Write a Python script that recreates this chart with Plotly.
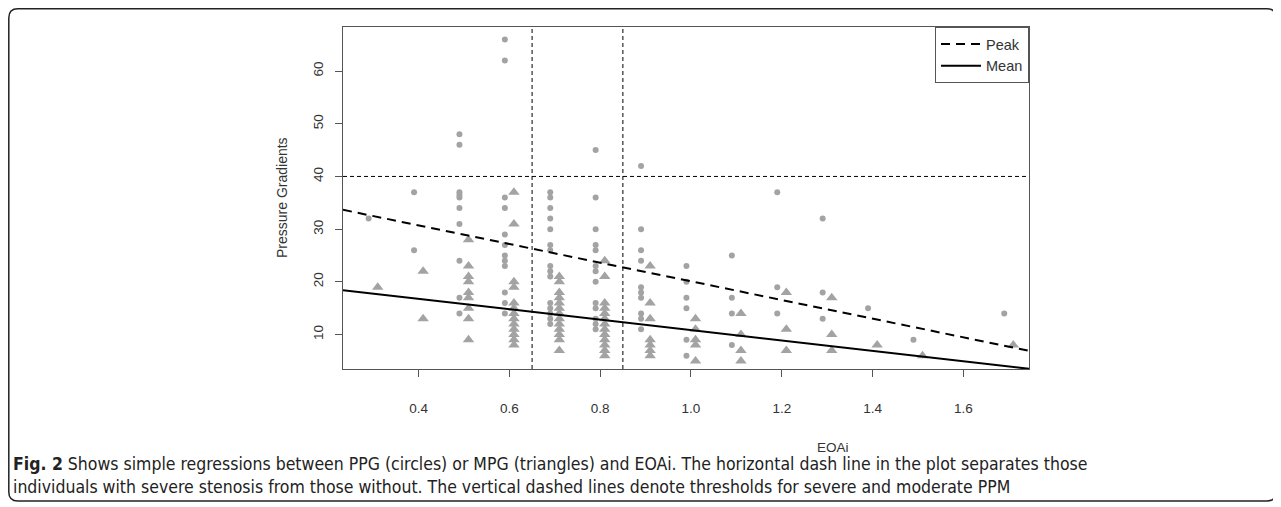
import plotly.graph_objects as go

# ---------------- data ----------------
eoai_levels = [0.3, 0.4, 0.5, 0.6, 0.7, 0.8, 0.9, 1.0, 1.1, 1.2, 1.3, 1.4, 1.5, 1.7]
ppg_by_level = [
    [32],
    [37, 26],
    [48, 46, 37, 36.5, 36, 34, 31, 24, 17, 14],
    [66, 62, 36, 34, 29, 27, 25, 24, 23, 18, 16, 14],
    [37, 36, 34, 32, 30, 27, 26, 23, 22, 21, 16, 15, 14, 13, 12],
    [45, 36, 30, 27, 26, 23, 22, 20, 16, 15, 13, 12, 11],
    [42, 30, 26, 24, 19, 18, 17, 14, 13, 11],
    [23, 20, 17, 15, 9, 6],
    [25, 17, 14, 8],
    [37, 19, 14],
    [32, 18, 13],
    [15],
    [9],
    [14],
]
mpg_by_level = [
    [19],
    [22, 13],
    [28, 23, 21, 20, 18, 17, 15, 13, 9],
    [37, 31, 20, 19, 16, 15, 14, 13, 12, 11, 10, 9, 8],
    [21, 20, 18, 17, 16, 15, 14, 13, 12, 11, 10, 9, 7],
    [24, 21, 16, 15, 14, 13, 12, 11, 10, 9, 8, 7, 6],
    [23, 16, 13, 9, 8, 7, 6],
    [13, 11, 9, 8, 5],
    [14, 10, 7, 5],
    [18, 11, 7],
    [17, 10, 7],
    [8],
    [6],
    [8],
]
# regression lines (intercept, slope)
peak_fit = [37.8, -17.7]
mean_fit = [20.74, -9.88]
severe_gradient = 40
ppm_thresholds = [0.65, 0.85]

x_ticks = [0.4, 0.6, 0.8, 1.0, 1.2, 1.4, 1.6]
x_ticktext = ["0.4", "0.6", "0.8", "1.0", "1.2", "1.4", "1.6"]
y_ticks = [10, 20, 30, 40, 50, 60]
y_ticktext = ["10", "20", "30", "40", "50", "60"]

# ---------------- style ----------------
x_range = [0.2335, 1.7445]
y_range = [3.47, 68.35]
dodge = 0.01
pt_color = "#a3a3a3"
axis_color = "#555555"
txt_color = "#333333"
font_main = "Liberation Sans, Arial, sans-serif"
font_cap = "DejaVu Sans Condensed, Liberation Sans Narrow, Liberation Sans, sans-serif"

OFF = 8                       # page body margin
W, H = 1281 - OFF, 507 - OFF
# plot area in page pixels
pL, pR, pT, pB = 343, 1029, 27, 369
L, R, T, B = pL - OFF, pR - OFF, pT - OFF, pB - OFF


def pg(px, py):
    """page pixel -> paper coordinates"""
    fx, fy = px - OFF, py - OFF
    return (fx - L) / (R - L), (B - fy) / (B - T)


ppg_x, ppg_y, mpg_x, mpg_y = [], [], [], []
for lv, ps, ms in zip(eoai_levels, ppg_by_level, mpg_by_level):
    ppg_x += [lv - dodge] * len(ps)
    ppg_y += ps
    mpg_x += [lv + dodge] * len(ms)
    mpg_y += ms

fig = go.Figure()
fig.add_trace(go.Scatter(x=ppg_x, y=ppg_y, mode="markers", showlegend=False,
                         marker=dict(symbol="circle", size=6, color=pt_color)))
fig.add_trace(go.Scatter(x=mpg_x, y=mpg_y, mode="markers", showlegend=False,
                         marker=dict(symbol="triangle-up", size=10, color=pt_color)))

line_x = x_range
fig.add_trace(go.Scatter(x=line_x, y=[peak_fit[0] + peak_fit[1] * v for v in line_x],
                         mode="lines", name="Peak",
                         line=dict(color="black", width=2, dash="9px,6px")))
fig.add_trace(go.Scatter(x=line_x, y=[mean_fit[0] + mean_fit[1] * v for v in line_x],
                         mode="lines", name="Mean",
                         line=dict(color="black", width=2)))

shapes = [
    dict(type="line", xref="paper", yref="y", x0=0, x1=1, y0=severe_gradient, y1=severe_gradient,
         line=dict(color="black", width=1, dash="4px,3px")),
]
for t in ppm_thresholds:
    shapes.append(dict(type="line", xref="x", yref="paper", x0=t, x1=t, y0=0, y1=1,
                       line=dict(color="black", width=1, dash="4px,3px")))

# outer rounded frame (figure box), page pixels
fx0, fy0 = 8.8, 8.8
fx1, fy1 = 1276, 501
rad = 9


def P(px, py):
    x, y = pg(px, py)
    return f"{x:.5f},{y:.5f}"


path = (f"M {P(fx0 + rad, fy0)} L {P(fx1 - rad, fy0)} Q {P(fx1, fy0)} {P(fx1, fy0 + rad)} "
        f"L {P(fx1, fy1 - rad)} Q {P(fx1, fy1)} {P(fx1 - rad, fy1)} "
        f"L {P(fx0 + rad, fy1)} Q {P(fx0, fy1)} {P(fx0, fy1 - rad)} "
        f"L {P(fx0, fy0 + rad)} Q {P(fx0, fy0)} {P(fx0 + rad, fy0)} Z")
shapes.append(dict(type="path", xref="paper", yref="paper", path=path,
                   line=dict(color="#222222", width=1.5), layer="below"))

annotations = [
    dict(text="Pressure Gradients", xref="paper", yref="paper",
         x=pg(282, 0)[0], y=pg(0, 198)[1], xanchor="center", yanchor="middle",
         textangle=-90, showarrow=False,
         font=dict(family=font_main, size=14, color=txt_color)),
    dict(text="EOAi", xref="paper", yref="paper", x=pg(833, 0)[0], y=pg(0, 447)[1],
         xanchor="center", yanchor="middle",
         showarrow=False, font=dict(family=font_main, size=13.5, color=txt_color)),
    dict(text="<b>Fig. 2</b> Shows simple regressions between PPG (circles) or MPG (triangles) and EOAi. "
              "The horizontal dash line in the plot separates those<br>"
              "individuals with severe stenosis from those without. The vertical dashed lines denote "
              "thresholds for severe and moderate PPM",
         xref="paper", yref="paper", x=pg(11, 0)[0], y=pg(0, 475)[1],
         xanchor="left", yanchor="middle", align="left", showarrow=False,
         font=dict(family=font_cap, size=17.5, color="#222222")),
]

fig.update_layout(
    width=W, height=H,
    margin=dict(l=L, r=W - R, t=T, b=H - B, pad=0),
    plot_bgcolor="white", paper_bgcolor="white",
    shapes=shapes, annotations=annotations,
    showlegend=True,
    legend=dict(x=1, y=1, xanchor="right", yanchor="top", bgcolor="white",
                bordercolor=axis_color, borderwidth=1,
                font=dict(family=font_main, size=14.5, color=txt_color),
                itemwidth=40, tracegroupgap=0, entrywidth=56, entrywidthmode="pixels"),
    xaxis=dict(range=x_range, tickvals=x_ticks, ticktext=x_ticktext, showgrid=False, zeroline=False,
               showline=True, linecolor=axis_color, linewidth=1, mirror=True,
               ticks="outside", ticklen=7, tickcolor=axis_color,
               tickfont=dict(family=font_main, size=13.5, color=txt_color), ticklabelstandoff=20),
    yaxis=dict(range=y_range, tickvals=y_ticks, ticktext=y_ticktext, showgrid=False, zeroline=False,
               showline=True, linecolor=axis_color, linewidth=1, mirror=True,
               ticks="outside", ticklen=7, tickcolor=axis_color, tickangle=-90,
               tickfont=dict(family=font_main, size=13.5, color=txt_color), ticklabelstandoff=7),
)

fig.write_html("out.html")
